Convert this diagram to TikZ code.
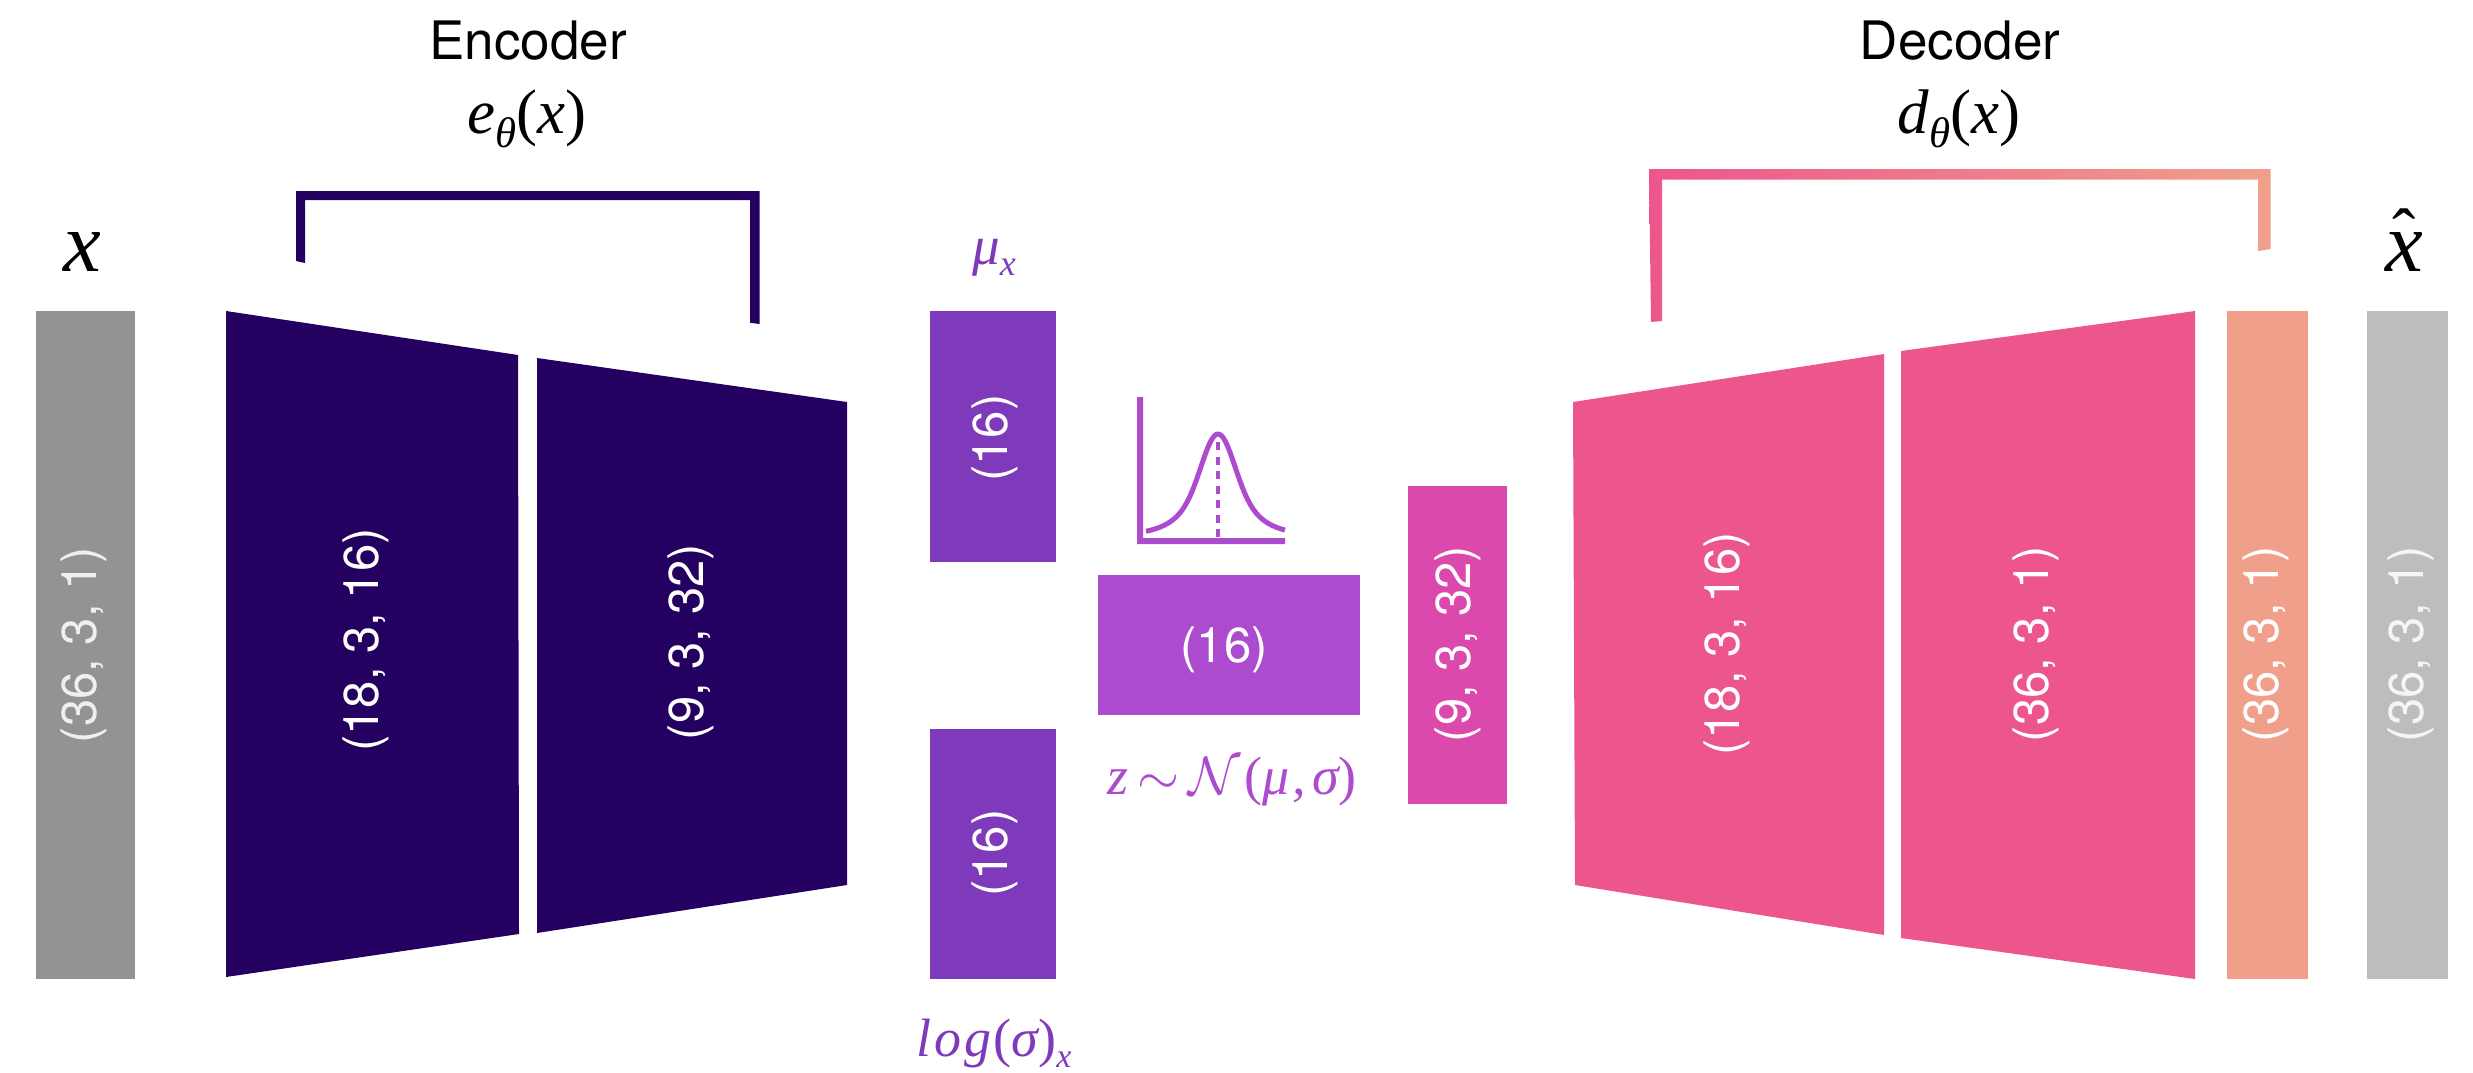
\documentclass[tikz,border=0pt]{standalone}
\usepackage{fix-cm}
\usepackage{fontspec}
\setmainfont{TeX Gyre Heros}
\newfontfamily\mathser{Liberation Serif}[ItalicFont=* Italic]
\definecolor{cGray}{HTML}{939393}
\definecolor{cLight}{HTML}{BDBDBD}
\definecolor{cNavy}{HTML}{240061}
\definecolor{cPurple}{HTML}{7E3ABB}
\definecolor{cOrchid}{HTML}{AD4BCF}
\definecolor{cMagenta}{HTML}{DC49AC}
\definecolor{cPink}{HTML}{EC568C}
\definecolor{cPeach}{HTML}{F0A08A}
\newcommand{\fsz}[1]{\fontsize{#1}{#1}\selectfont}
\newcommand{\myit}{\mathser\itshape}
\newcommand{\myup}{\mathser\upshape}
\newcommand{\subs}[1]{\raisebox{-0.22em}{\fontsize{0.68em}{0.68em}\selectfont #1}}
\newcommand{\subsz}[2]{\raisebox{#1}{\fsz{#2}\myit x}}
\tikzset{
  lbl/.style={inner sep=0pt,outer sep=0pt,text=white,font=\fsz{49}},
  rlbl/.style={lbl,rotate=90},
  head/.style={inner sep=0pt,outer sep=0pt,text=black,font=\fsz{53}},
  mth/.style={inner sep=0pt,outer sep=0pt,font=\fsz{63}\myit},
  big/.style={inner sep=0pt,outer sep=0pt,font=\fsz{85}\myit},
  curveline/.style={draw=cOrchid,line width=5pt,line join=round}
}
\begin{document}
\begin{tikzpicture}[x=1pt,y=-1pt]
\useasboundingbox (0,0) rectangle (2473,1073);
% blocks
\fill[cGray] (36,311) rectangle (135,979);
\fill[cLight] (2367,311) rectangle (2448,979);
\fill[cPeach] (2227,311) rectangle (2308,979);
\fill[cNavy] (226,311) -- (518,355) -- (519,934) -- (226,977) -- cycle;
\fill[cNavy] (537,358) -- (847,402) -- (847,885) -- (537,933) -- cycle;
\fill[cPurple] (930,311) rectangle (1056,562);
\fill[cPurple] (930,729) rectangle (1056,979);
\fill[cOrchid] (1098,575) rectangle (1360,715);
\fill[cMagenta] (1408,486) rectangle (1507,804);
\fill[cPink] (1573,402) -- (1884,354) -- (1884,935) -- (1575,885) -- cycle;
\fill[cPink] (1901,351) -- (2195,311) -- (2195,979) -- (1901,938) -- cycle;
% brackets
\fill[cNavy] (296,191) -- (759.5,191) -- (759.5,324) -- (750,322.7) -- (750,200) -- (305,200) -- (305,263) -- (296,261) -- cycle;
\shade[left color=cPink,right color=cPeach] (1649,169) -- (2270.5,169) -- (2270.5,249) -- (2258,251) -- (2258,179.5) -- (1662,179.5) -- (1662,321) -- (1651,322) -- cycle;
% distribution icon
\fill[cOrchid] (1137,397) -- (1143,397) -- (1143,538) -- (1285,538) -- (1285,544) -- (1137,544) -- cycle;
\draw[curveline] plot[domain=-72:67,samples=80,smooth] ({1218+\x},{534-100*(0.65*exp(-(\x/16)*(\x/16)/2)+0.35*exp(-(\x/32)*(\x/32)/2))});
\draw[draw=cOrchid,line width=4pt,dash pattern=on 8pt off 6.5pt] (1218,442) -- (1218,540);
% labels in blocks
\node[rlbl,text=white!85!cGray] (l1) at (84,645) {(36, 3, 1)};
\node[rlbl] (l2) at (366,640) {(18, 3, 16)};
\node[rlbl] (l3) at (691,642) {(9, 3, 32)};
\node[rlbl] (l4) at (995,438) {(16)};
\node[rlbl] (l5) at (995,853) {(16)};
\node[lbl] (l6) at (1224,650) {(16)};
\node[rlbl] (l7) at (1458,644) {(9, 3, 32)};
\node[rlbl] (l8) at (1727,644) {(18, 3, 16)};
\node[rlbl] (l9) at (2036,644) {(36, 3, 1)};
\node[rlbl] (l10) at (2266,644) {(36, 3, 1)};
\node[rlbl,text=white!85!cLight] (l11) at (2411,644) {(36, 3, 1)};
% titles
\node[head] (enc) at (528,41) {Encoder};
\node[head] (dec) at (1960,41) {Decoder};
\node[mth] (ef) at (527,119) {e\subs{θ}\myup(\myit x\myup)};
\node[mth] (df) at (1959,119) {d\subs{θ}\myup(\myit x\myup)};
\node[big] (xin) at (82,252) {x};
\node[big,anchor=base] (xout) at (2404,271) {\makebox[38pt][c]{\raisebox{13.5pt}{\fsz{70}\myup ˆ}}\kern-38pt\makebox[38pt][c]{x}};
\node[mth,font=\fsz{55}\myit,text=cPurple] (mu) at (994,258) {μ\subsz{-0.2em}{36}};
\node[mth,font=\fsz{54}\myit,text=cPurple] (ls) at (994,1044) {l\kern3pt o\kern3pt g\kern2pt\myup(\myit σ\myup)\subsz{-0.2em}{34}};
\node[mth,font=\fsz{54}\myit,text=cOrchid] (zz) at (1232,782) {z\kern9pt$\sim$\kern9pt$\mathcal{N}$\kern4pt\myup(\myit μ\kern3pt,\kern6pt σ\myup)};
\end{tikzpicture}
\end{document}
